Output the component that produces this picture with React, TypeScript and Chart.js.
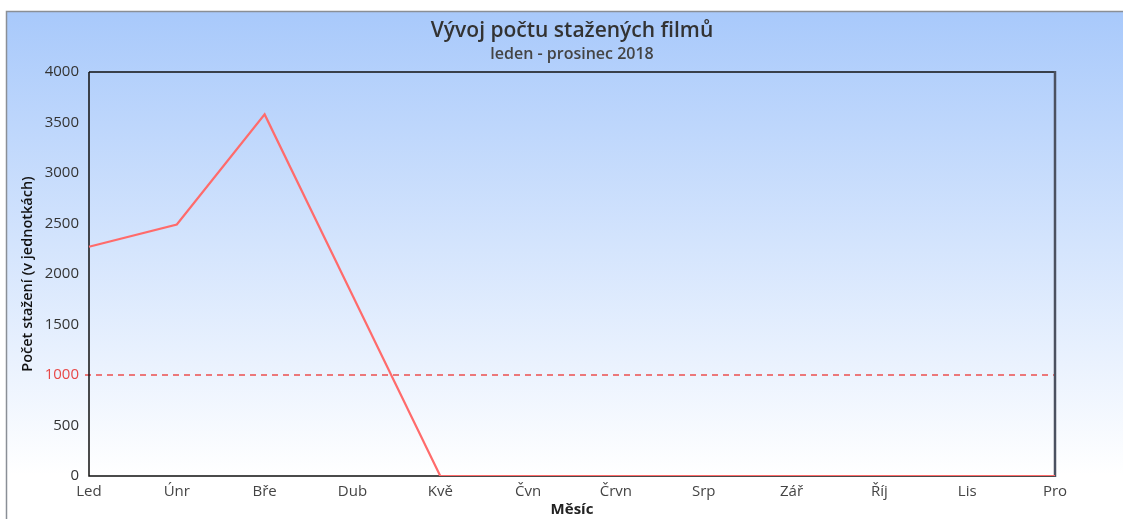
import React, { useEffect, useRef } from "react";
import { Chart, registerables } from "chart.js";

Chart.register(...registerables);

const months = ["Led", "Únr", "Bře", "Dub", "Kvě", "Čvn", "Črvn", "Srp", "Zář", "Říj", "Lis", "Pro"];
const downloads = [2270, 2490, 3580, 1790, 0, 0, 0, 0, 0, 0, 0, 0];
const threshold = 1000;
const titleText = "Vývoj počtu stažených filmů";
const subtitleText = "leden - prosinec 2018";
const yTitle = "Počet stažení (v jednotkách)";
const xTitle = "Měsíc";

const FONT = "'Open Sans', 'Noto Sans', sans-serif";

export default function App() {
  const ref = useRef<HTMLCanvasElement | null>(null);

  useEffect(() => {
    const canvas = ref.current;
    if (!canvas) return;

    const bgPlugin = {
      id: "bgBox",
      beforeDraw(chart: any) {
        const ctx = chart.ctx;
        const w = chart.width;
        const h = chart.height;
        ctx.save();
        const g = ctx.createLinearGradient(0, 11, 0, 475);
        g.addColorStop(0, "#a8c9fb");
        g.addColorStop(1, "#ffffff");
        ctx.fillStyle = g;
        ctx.fillRect(6, 11, w - 6, h - 11);
        ctx.strokeStyle = "#8a8f96";
        ctx.lineWidth = 1.5;
        ctx.beginPath();
        ctx.moveTo(6.5, h);
        ctx.lineTo(6.5, 11.5);
        ctx.lineTo(w, 11.5);
        ctx.stroke();
        ctx.restore();
      },
      beforeDatasetsDraw(chart: any) {
        const ctx = chart.ctx;
        const a = chart.chartArea;
        const y = chart.scales.y.getPixelForValue(threshold);
        ctx.save();
        ctx.strokeStyle = "#ec4f4f";
        ctx.lineWidth = 1.4;
        ctx.setLineDash([6, 5]);
        ctx.beginPath();
        ctx.moveTo(a.left - 4, Math.round(y));
        ctx.lineTo(a.right, Math.round(y));
        ctx.stroke();
        ctx.setLineDash([]);
        ctx.strokeStyle = "#111";
        ctx.lineWidth = 1.5;
        ctx.beginPath();
        ctx.moveTo(a.left, a.top);
        ctx.lineTo(a.right, a.top);
        ctx.moveTo(a.left, a.top);
        ctx.lineTo(a.left, a.bottom);
        ctx.lineTo(a.right, a.bottom);
        ctx.stroke();
        ctx.strokeStyle = "#4b5160";
        ctx.lineWidth = 2.5;
        ctx.beginPath();
        ctx.moveTo(a.right, a.top - 1);
        ctx.lineTo(a.right, a.bottom + 1);
        ctx.stroke();
        ctx.restore();
      },
    };

    const chart = new Chart(canvas, {
      type: "line",
      data: {
        labels: months,
        datasets: [
          {
            label: "Staženo",
            data: downloads,
            borderColor: "#ff6b6b",
            backgroundColor: "#ff6b6b",
            borderWidth: 2.2,
            pointRadius: 0,
            tension: 0,
            fill: false,
          },
        ],
      },
      options: {
        responsive: false,
        animation: false,
        devicePixelRatio: 1,
        layout: { padding: { top: 11, right: 68, left: 0, bottom: 0 } },
        plugins: {
          legend: { display: false },
          tooltip: { enabled: false },
          title: {
            display: true,
            text: titleText,
            fullSize: false,
            color: "#333",
            font: { family: FONT, size: 21, weight: "600" },
            padding: { top: 7, bottom: 2 },
          },
          subtitle: {
            display: true,
            text: subtitleText,
            fullSize: false,
            color: "#444",
            font: { family: FONT, size: 16, weight: "600" },
            padding: { top: 0, bottom: 7.6 },
          },
        },
        scales: {
          x: {
            type: "category",
            offset: false,
            grid: { display: false, drawTicks: false },
            border: { display: false },
            ticks: {
              color: "#444",
              font: { family: FONT, size: 15 },
              padding: 7,
              maxRotation: 0,
              autoSkip: false,
            },
            title: {
              display: true,
              text: xTitle,
              color: "#222",
              font: { family: FONT, size: 15, weight: "bold" },
              padding: { top: -2, bottom: 0 },
            },
            afterFit(s: any) {
              s.height = 43;
            },
          },
          y: {
            min: 0,
            max: 4000,
            grid: { display: false, drawTicks: false },
            border: { display: false },
            ticks: {
              stepSize: 500,
              padding: 10,
              font: { family: FONT, size: 15 },
              callback: (v: any) => String(v),
              color: (c: any) => (c.tick && c.tick.value === threshold ? "#e84848" : "#333"),
            },
            title: {
              display: true,
              text: yTitle,
              color: "#111",
              font: { family: FONT, size: 14.5, weight: "600" },
              padding: 19,
            },
            afterFit(s: any) {
              s.width = 89;
            },
          },
        },
      },
      plugins: [bgPlugin],
    });

    return () => chart.destroy();
  }, []);

  return (
    <div style={{ position: "fixed", left: 0, top: 0, width: 1123, height: 519, background: "#fff" }}>
      <canvas ref={ref} width={1123} height={519} style={{ display: "block" }} />
    </div>
  );
}
